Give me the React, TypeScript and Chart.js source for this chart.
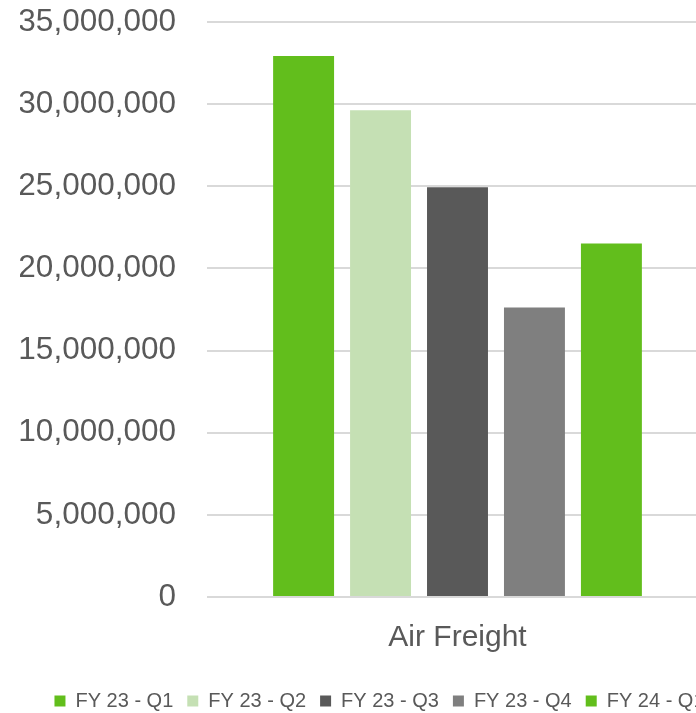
import React, { useEffect, useRef } from "react";
import { Chart, registerables } from "chart.js";

Chart.register(...registerables);

const categories = ["Air Freight"];
const seriesNames = ["FY 23 - Q1", "FY 23 - Q2", "FY 23 - Q3", "FY 23 - Q4", "FY 24 - Q1"];
const fy23q1 = [32930000];
const fy23q2 = [29630000];
const fy23q3 = [24940000];
const fy23q4 = [17620000];
const fy24q1 = [21520000];
const seriesColors = ["#62be1c", "#c5e0b4", "#595959", "#7f7f7f", "#62be1c"];

const FONT = "'Liberation Sans', Arial, Helvetica, sans-serif";
const CW = 739;
const CH = 721;

export default function App() {
  const ref = useRef<HTMLCanvasElement>(null);
  useEffect(() => {
    if (!ref.current) return;
    const values = [fy23q1, fy23q2, fy23q3, fy23q4, fy24q1];
    const chart = new Chart(ref.current, {
      type: "bar",
      data: {
        labels: categories,
        datasets: seriesNames.map((name, i) => ({
          label: name,
          data: values[i],
          backgroundColor: seriesColors[i],
          borderWidth: 0,
          categoryPercentage: 0.768,
          barPercentage: 0.792,
        })),
      },
      options: {
        animation: false,
        responsive: false,
        maintainAspectRatio: false,
        layout: { padding: { left: 20, top: 0, right: 0, bottom: 0 } },
        plugins: {
          tooltip: { enabled: false },
          legend: {
            position: "bottom",
            labels: {
              boxWidth: 11,
              boxHeight: 11,
              padding: 14,
              color: "#595959",
              font: { family: FONT, size: 20 },
            },
          },
        },
        scales: {
          x: {
            grid: { display: false },
            border: { display: false },
            ticks: { color: "#595959", font: { family: FONT, size: 30 }, padding: 15 },
            afterFit: (s: any) => { s.height += 6; },
          },
          y: {
            min: 0,
            max: 35000000,
            grid: { color: "#d9d9d9", lineWidth: 2, drawTicks: false },
            border: { display: false },
            ticks: {
              stepSize: 5000000,
              color: "#595959",
              font: { family: FONT, size: 31.5 },
              padding: 31,
              callback: (v: any) => Number(v).toLocaleString("en-US"),
            },
            afterFit: (s: any) => { s.width = 187; s.paddingTop = 22; s.paddingBottom = 0; },
          },
          y2: {
            position: "right",
            display: true,
            grid: { display: false },
            border: { display: false },
            ticks: { display: false },
            afterFit: (s: any) => { s.width = 31; s.paddingTop = 0; s.paddingBottom = 0; },
          },
        },
      },
    });
    return () => chart.destroy();
  }, []);
  return (
    <div style={{ position: "fixed", left: 0, top: 0, width: 696, height: 713, overflow: "hidden", background: "#fff" }}>
      <canvas ref={ref} width={CW} height={CH} style={{ display: "block", width: CW, height: CH }} />
    </div>
  );
}
